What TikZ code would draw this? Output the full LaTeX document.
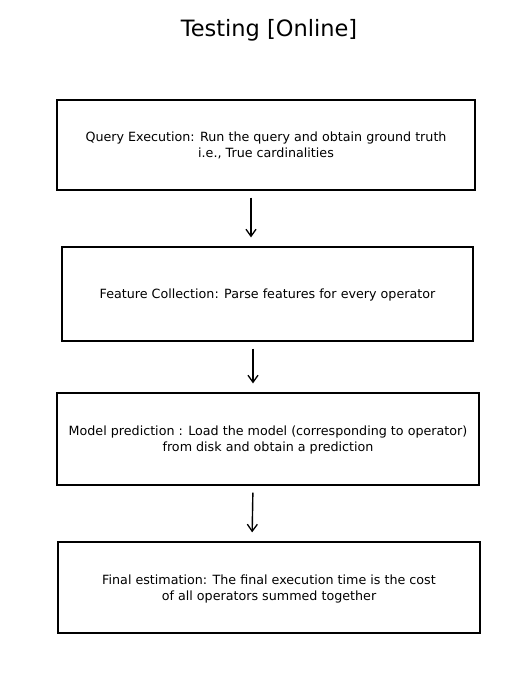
\documentclass[tikz,border=0pt]{standalone}
\usepackage{fontspec}
\setmainfont{DejaVu Sans}
\usepackage{tikz}
\usetikzlibrary{arrows.meta}

\tikzset{
	stepbox/.style={draw, line width=1.3pt, align=center, text depth=0pt, font=\fontsize{12.7}{16}\selectfont},
	arr/.style={-{Straight Barb[length=7pt,width=10pt,line width=1.3pt]}, line width=1.4pt, shorten <=7pt, shorten >=9pt}
}

\begin{document}
\begin{tikzpicture}[x=1pt,y=-1pt]
		\useasboundingbox (0,0) rectangle (526,694);
		\node[font=\fontsize{22.5}{26}\selectfont] (title) at (269,30.5) {Testing [Online]};
		
		\node[stepbox, minimum width=418pt, minimum height=90pt] (qe) at (266,145)
			{Query Execution: Run the query and obtain ground truth\\i.e., True cardinalities};
		\node[stepbox, minimum width=411pt, minimum height=94pt] (fc) at (267.5,294)
			{Feature Collection: Parse features for every operator};
		\node[stepbox, minimum width=422pt, minimum height=92pt] (mp) at (268,439)
			{Model prediction : Load the model (corresponding to operator)\\from disk and obtain a prediction};
		\node[stepbox, minimum width=422pt, minimum height=91pt] (fe) at (269,587.5)
			{Final estimation: The final execution time is the cost\\of all operators summed together};
		
		\draw[arr] ([xshift=-15pt]qe.south) -- ([xshift=-16.5pt]fc.north);
		\draw[arr] ([xshift=-14.5pt]fc.south) -- ([xshift=-15pt]mp.north);
		\draw[arr] ([xshift=-15pt]mp.south) -- ([xshift=-17pt]fe.north);
	\end{tikzpicture}
\end{document}
